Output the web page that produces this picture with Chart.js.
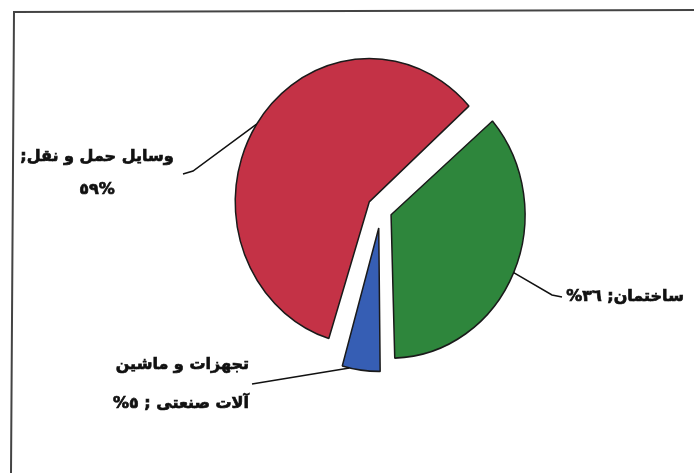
<!DOCTYPE html>
<html lang="fa">
<head>
<meta charset="utf-8">
<script src="https://cdn.jsdelivr.net/npm/chart.js@4.4.1/dist/chart.umd.min.js"></script>
<style>
  body { margin: 0; background: #fff; }
</style>
</head>
<body>
<canvas id="myChart" width="694" height="473"></canvas>
<script>
// slices, in drawing order (clockwise from the top-right edge)
const categories = ['ساختمان', 'تجهزات و ماشین آلات صنعتی', 'وسایل حمل و نقل'];
const categoryLines = [['ساختمان'], ['تجهزات و ماشین', 'آلات صنعتی'], ['وسایل حمل و نقل']];
const shares = [36, 5, 59];

const sliceColors = ['rgb(46, 134, 60)', 'rgb(54, 94, 180)', 'rgb(196, 50, 70)'];
const pieRadius = 134;
const stretchY = 1.07;   // the printed pie is a little taller than wide

const arDigits = '٠١٢٣٤٥٦٧٨٩';
function toAr(n) {
    return String(n).replace(/[0-9]/g, d => arDigits[d]);
}

// label layout: text anchor, where along the slice the leader starts, elbow points
const labelLayout = [
    { x: 625, y: 297, align: 'center', lineGap: 0, at: 0.5, path: [[552, 295], [562, 297]],
      text: i => [[categoryLines[i][0] + '; ' + toAr(shares[i]) + '%', 'rtl']] },
    { x: 249, y: 365, align: 'right', lineGap: 39, at: 0.78, path: [[252, 384]],
      text: i => [[categoryLines[i][0], 'rtl'], [categoryLines[i][1] + ' ; ' + toAr(shares[i]) + '%', 'rtl']] },
    { x: 97, y: 157, align: 'center', lineGap: 33, at: 0.5, path: [[193, 171], [183, 174]],
      text: i => [[categoryLines[i][0] + ';', 'rtl'], [toAr(shares[i]) + '%', 'ltr']] }
];

const framePlugin = {
    id: 'frame',
    beforeDraw(chart) {
        const ctx = chart.ctx;
        ctx.save();
        ctx.fillStyle = '#fff';
        ctx.fillRect(0, 0, chart.width, chart.height);
        ctx.strokeStyle = '#444';
        ctx.lineWidth = 2;
        ctx.beginPath();
        ctx.moveTo(11, chart.height);
        ctx.lineTo(14, 12);
        ctx.lineTo(chart.width, 10);
        ctx.stroke();
        ctx.restore();
    }
};

// chart.js grows the radius of an offset slice; pull it back so all slices match,
// and stretch the pie vertically a touch
const piePlugin = {
    id: 'pieShape',
    beforeDatasetsDraw(chart) {
        const arcs = chart.getDatasetMeta(0).data;
        arcs.forEach(arc => {
            const circ = arc.endAngle - arc.startAngle;
            const fix = 1 - Math.sin(Math.min(Math.PI, circ));
            arc.outerRadius = pieRadius - arc.options.offset / 4 * fix;
        });
        const ctx = chart.ctx;
        ctx.save();
        ctx.translate(arcs[0].x, arcs[0].y);
        ctx.scale(1, stretchY);
        ctx.translate(-arcs[0].x, -arcs[0].y);
    },
    afterDatasetsDraw(chart) {
        chart.ctx.restore();
    }
};

const labelPlugin = {
    id: 'sliceLabels',
    afterDraw(chart) {
        const ctx = chart.ctx;
        const arcs = chart.getDatasetMeta(0).data;
        ctx.save();
        arcs.forEach((arc, i) => {
            const lay = labelLayout[i];
            const shift = arc.options.offset / 4;
            const mid = (arc.startAngle + arc.endAngle) / 2;
            const a = arc.startAngle + (arc.endAngle - arc.startAngle) * lay.at;
            const px = arc.x + Math.cos(mid) * shift + Math.cos(a) * pieRadius;
            const py = arc.y + (Math.sin(mid) * shift + Math.sin(a) * pieRadius) * stretchY;

            // leader line
            ctx.strokeStyle = '#111';
            ctx.lineWidth = 1.5;
            ctx.beginPath();
            ctx.moveTo(px, py);
            lay.path.forEach(pt => ctx.lineTo(pt[0], pt[1]));
            ctx.stroke();

            // text
            ctx.fillStyle = '#111';
            ctx.strokeStyle = '#111';
            ctx.lineWidth = 0.7;
            ctx.font = 'bold 16px "DejaVu Sans"';
            ctx.textAlign = lay.align;
            ctx.textBaseline = 'middle';
            lay.text(i).forEach((line, k) => {
                ctx.direction = line[1];
                ctx.fillText(line[0], lay.x, lay.y + k * lay.lineGap);
                ctx.strokeText(line[0], lay.x, lay.y + k * lay.lineGap);
            });
        });
        ctx.restore();
    }
};

const config = {
    type: 'pie',
    data: {
        labels: categories,
        datasets: [{
            data: shares,
            backgroundColor: sliceColors,
            borderColor: '#1a1a1a',
            borderWidth: 1.5,
            offset: [44, 68, 56],
            hoverOffset: 0
        }]
    },
    options: {
        responsive: false,
        animation: false,
        rotation: 49,
        radius: pieRadius,
        layout: {
            padding: { left: 68, right: 0, top: 0, bottom: 53 }
        },
        plugins: {
            legend: { display: false },
            tooltip: { enabled: false }
        }
    },
    plugins: [framePlugin, piePlugin, labelPlugin]
};

const myChart = new Chart(document.getElementById('myChart'), config);
</script>
</body>
</html>
